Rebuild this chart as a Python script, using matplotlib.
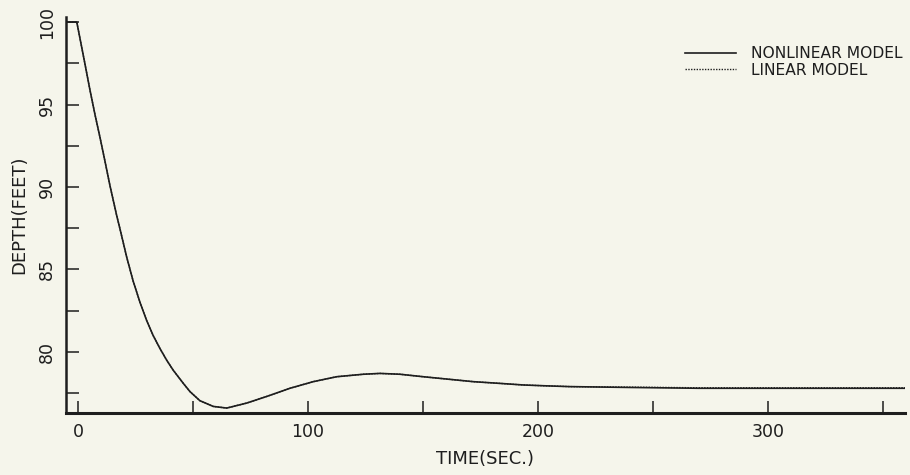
import matplotlib.pyplot as plt

# depth response read at these times (sec)
time_sec = [-5, -0.5, 1.6, 3.0, 5.2, 7.4, 9.6, 11.7, 13.9, 16.8, 18.3, 21.2,
            24.0, 27.0, 29.9, 32.7, 35.7, 38.6, 41.4, 45.8, 48.7, 53.0,
            58.8, 64.7, 73.3, 82.0, 92.2, 102.3, 112.5, 124.1, 131.3,
            140.0, 150.1, 161.0, 171.9, 183.0, 193.6, 203.0, 213.9, 240.0,
            270.0, 300.0, 330.0, 360.0]
depth_nonlinear = [100.0, 100.0, 98.5, 97.5, 95.9, 94.4, 93.0, 91.6, 90.1,
                   88.3, 87.45, 85.75, 84.3, 83.0, 81.9, 81.0, 80.2, 79.5,
                   78.9, 78.1, 77.6, 77.05, 76.7, 76.6, 76.9, 77.3, 77.8,
                   78.2, 78.5, 78.65, 78.7, 78.65, 78.5, 78.35, 78.2, 78.1,
                   78.0, 77.95, 77.9, 77.85, 77.8, 77.8, 77.8, 77.8]
depth_linear = [100.0, 100.0, 98.5, 97.5, 95.9, 94.4, 93.0, 91.6, 90.1,
                88.3, 87.45, 85.75, 84.3, 83.0, 81.9, 81.0, 80.2, 79.5,
                78.9, 78.1, 77.6, 77.05, 76.7, 76.6, 76.9, 77.3, 77.8,
                78.2, 78.5, 78.65, 78.7, 78.65, 78.5, 78.35, 78.2, 78.1,
                78.0, 77.95, 77.9, 77.87, 77.83, 77.83, 77.83, 77.83]

x_labels = [0, 100, 200, 300]
x_minor = [50, 150, 250, 350]
y_labels = [80, 85, 90, 95, 100]
y_minor = [77.5, 82.5, 87.5, 92.5, 97.5]

bg = '#f5f5eb'
ink = '#1e1e1e'

fig = plt.figure(figsize=(9.1, 4.75), dpi=100, facecolor=bg)
ax = fig.add_axes([0.0725, 0.1305, 0.922, 0.8335], facecolor=bg)

ax.plot(time_sec, depth_nonlinear, color=ink, lw=1.2, label='NONLINEAR MODEL')
ax.plot(time_sec, depth_linear, color=ink, lw=1.0, ls=(0, (1, 1)),
        label='LINEAR MODEL')

ax.set_xlim(-5.2, 359.6)
ax.set_ylim(76.3, 100.3)

for side in ['top', 'right']:
    ax.spines[side].set_visible(False)
ax.spines['left'].set_linewidth(1.8)
ax.spines['bottom'].set_linewidth(2.2)
for side in ['left', 'bottom']:
    ax.spines[side].set_color(ink)

ax.set_xticks(x_labels)
ax.set_xticks(x_minor, minor=True)
ax.set_yticks(y_labels)
ax.set_yticks(y_minor, minor=True)

ax.tick_params(axis='both', which='both', direction='in', color=ink,
               width=1.1, labelcolor=ink)
ax.tick_params(axis='x', which='both', length=9, pad=7, labelsize=12.5)
ax.tick_params(axis='y', which='both', length=9)
ax.tick_params(axis='y', which='major', pad=7, labelsize=12.5)
ax.set_xticklabels([str(v) for v in x_labels])
ax.set_yticklabels([str(v) for v in y_labels], rotation=90, va='center')

ax.set_xlabel('TIME(SEC.)', fontsize=13, color=ink, labelpad=7)
ax.set_ylabel('DEPTH(FEET)', fontsize=13, color=ink, labelpad=7)

leg = ax.legend(loc='upper right', bbox_to_anchor=(1.005, 0.942), frameon=False,
                fontsize=11.2, handlelength=3.3, handletextpad=1.0,
                labelspacing=0.1, borderaxespad=0.0)
for t in leg.get_texts():
    t.set_color(ink)

fig.savefig('out.png', dpi=100, facecolor=bg)
